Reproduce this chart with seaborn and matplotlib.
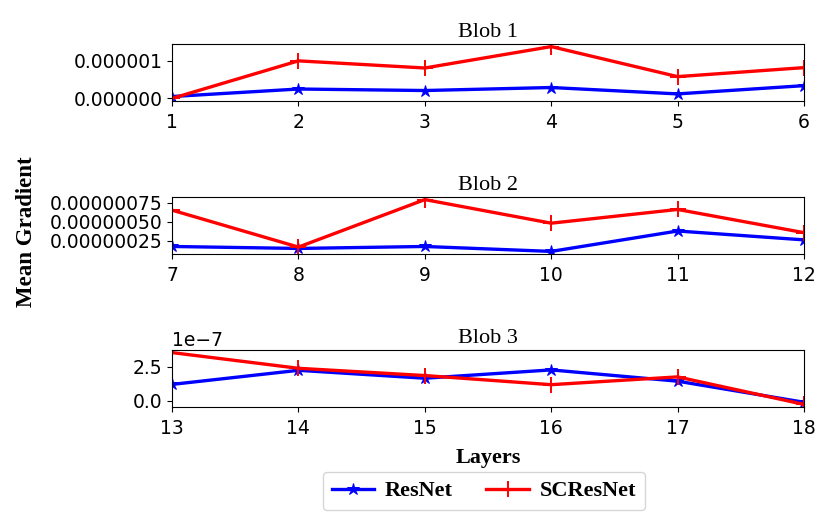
import numpy as np
import pandas as pd
import matplotlib
matplotlib.use("Agg")
import matplotlib.pyplot as plt
import seaborn as sns
from matplotlib.ticker import FormatStrFormatter

# layer indices per blob
blob1_layers = [1, 2, 3, 4, 5, 6]
blob2_layers = [7, 8, 9, 10, 11, 12]
blob3_layers = [13, 14, 15, 16, 17, 18]

# mean gradient values
blob1_resnet = [0.05e-6, 0.25e-6, 0.21e-6, 0.29e-6, 0.12e-6, 0.34e-6]
blob1_scresnet = [0.0, 1.0e-6, 0.81e-6, 1.38e-6, 0.58e-6, 0.82e-6]
blob2_resnet = [0.176e-6, 0.15e-6, 0.176e-6, 0.111e-6, 0.38e-6, 0.263e-6]
blob2_scresnet = [0.655e-6, 0.168e-6, 0.794e-6, 0.483e-6, 0.664e-6, 0.358e-6]
blob3_resnet = [1.20e-7, 2.25e-7, 1.66e-7, 2.28e-7, 1.44e-7, -0.13e-7]
blob3_scresnet = [3.57e-7, 2.40e-7, 1.86e-7, 1.18e-7, 1.76e-7, -0.29e-7]

titles = ["Blob 1", "Blob 2", "Blob 3"]
yticks = [[0, 1e-6], [2.5e-7, 5e-7, 7.5e-7], [0, 2.5e-7]]

serif = "Liberation Serif"
tick_size = 13.5

fig = plt.figure(figsize=(8.3, 5.22), dpi=100)
left, width, height = 172 / 830, 632 / 830, 57 / 522
bottoms = [1 - 101 / 522, 1 - 254 / 522, 1 - 407 / 522]
axes = [fig.add_axes([left, b, width, height]) for b in bottoms]

blobs = [
    (blob1_layers, blob1_resnet, blob1_scresnet),
    (blob2_layers, blob2_resnet, blob2_scresnet),
    (blob3_layers, blob3_resnet, blob3_scresnet),
]

for i, (ax, (layers, res, scres)) in enumerate(zip(axes, blobs)):
    df = pd.DataFrame({"layer": layers, "ResNet": res, "SCResNet": scres})
    sns.lineplot(data=df, x="layer", y="ResNet", ax=ax, color="blue",
                 marker="*", markersize=9, markeredgecolor="blue",
                 linewidth=2.4, label="ResNet", legend=False)
    sns.lineplot(data=df, x="layer", y="SCResNet", ax=ax, color="red",
                 marker="+", markersize=12, markeredgewidth=1.4,
                 markeredgecolor="red",
                 linewidth=2.4, label="SCResNet", legend=False)
    ax.set_xlim(layers[0], layers[-1])
    ax.set_xticks(layers)
    ax.set_yticks(yticks[i])
    ax.set_xlabel("")
    ax.set_ylabel("")
    ax.set_title(titles[i], fontsize=16, family=serif, pad=5)
    ax.tick_params(labelsize=tick_size)
    ax.tick_params(axis="x", pad=5)
    if i == 0:
        ax.yaxis.set_major_formatter(FormatStrFormatter("%.6f"))
    elif i == 1:
        ax.yaxis.set_major_formatter(FormatStrFormatter("%.8f"))
    else:
        ax.yaxis.get_offset_text().set_fontsize(tick_size)

axes[2].set_xlabel("Layers", fontsize=16, family=serif, fontweight="bold",
                   labelpad=7)
fig.text(27 / 830, 1 - 232 / 522, "Mean Gradient", rotation=90, ha="center",
         va="center", fontsize=16.5, family=serif, fontweight="bold")

handles, labels = axes[2].get_legend_handles_labels()
fig.legend(handles, labels, loc="center", bbox_to_anchor=(484 / 830, 1 - 491 / 522),
           ncol=2, prop={"family": serif, "weight": "bold", "size": 16},
           columnspacing=1.5, handletextpad=0.5, handlelength=1.9)

fig.savefig("out.png", dpi=100)
